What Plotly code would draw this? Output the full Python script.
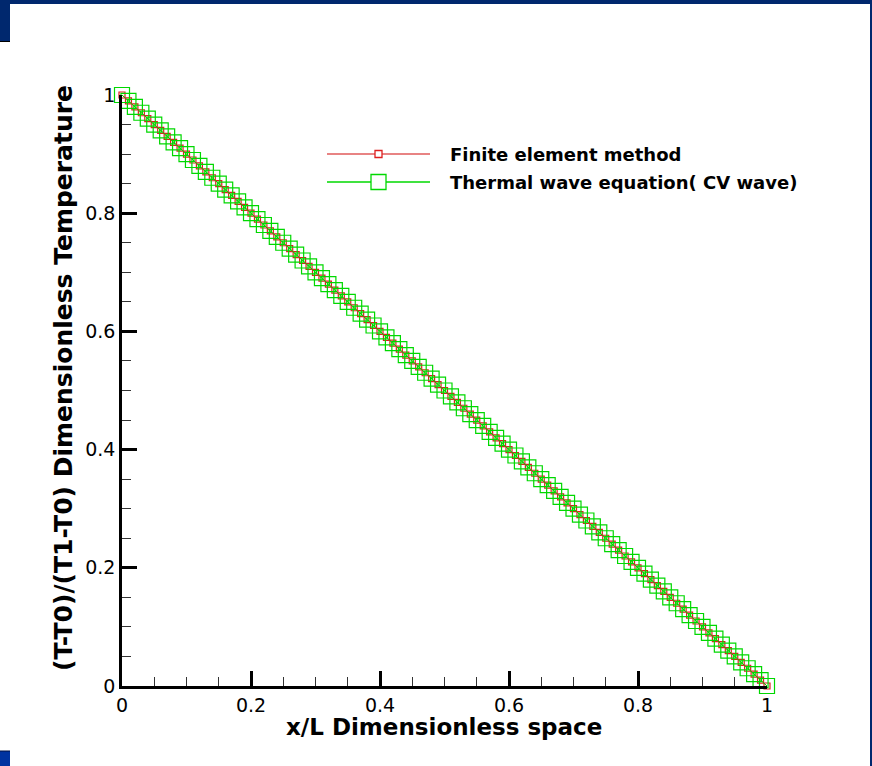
import plotly.graph_objects as go

# ---- data ----
x_fem = [0.00, 0.01, 0.02, 0.03, 0.04, 0.05, 0.06, 0.07, 0.08, 0.09,
         0.10, 0.11, 0.12, 0.13, 0.14, 0.15, 0.16, 0.17, 0.18, 0.19,
         0.20, 0.21, 0.22, 0.23, 0.24, 0.25, 0.26, 0.27, 0.28, 0.29,
         0.30, 0.31, 0.32, 0.33, 0.34, 0.35, 0.36, 0.37, 0.38, 0.39,
         0.40, 0.41, 0.42, 0.43, 0.44, 0.45, 0.46, 0.47, 0.48, 0.49,
         0.50, 0.51, 0.52, 0.53, 0.54, 0.55, 0.56, 0.57, 0.58, 0.59,
         0.60, 0.61, 0.62, 0.63, 0.64, 0.65, 0.66, 0.67, 0.68, 0.69,
         0.70, 0.71, 0.72, 0.73, 0.74, 0.75, 0.76, 0.77, 0.78, 0.79,
         0.80, 0.81, 0.82, 0.83, 0.84, 0.85, 0.86, 0.87, 0.88, 0.89,
         0.90, 0.91, 0.92, 0.93, 0.94, 0.95, 0.96, 0.97, 0.98, 0.99,
         1.00]
t_fem = [1.00, 0.99, 0.98, 0.97, 0.96, 0.95, 0.94, 0.93, 0.92, 0.91,
         0.90, 0.89, 0.88, 0.87, 0.86, 0.85, 0.84, 0.83, 0.82, 0.81,
         0.80, 0.79, 0.78, 0.77, 0.76, 0.75, 0.74, 0.73, 0.72, 0.71,
         0.70, 0.69, 0.68, 0.67, 0.66, 0.65, 0.64, 0.63, 0.62, 0.61,
         0.60, 0.59, 0.58, 0.57, 0.56, 0.55, 0.54, 0.53, 0.52, 0.51,
         0.50, 0.49, 0.48, 0.47, 0.46, 0.45, 0.44, 0.43, 0.42, 0.41,
         0.40, 0.39, 0.38, 0.37, 0.36, 0.35, 0.34, 0.33, 0.32, 0.31,
         0.30, 0.29, 0.28, 0.27, 0.26, 0.25, 0.24, 0.23, 0.22, 0.21,
         0.20, 0.19, 0.18, 0.17, 0.16, 0.15, 0.14, 0.13, 0.12, 0.11,
         0.10, 0.09, 0.08, 0.07, 0.06, 0.05, 0.04, 0.03, 0.02, 0.01,
         0.00]
x_cv = list(x_fem)
t_cv = [1.00, 0.99, 0.98, 0.97, 0.96, 0.95, 0.94, 0.93, 0.92, 0.91,
        0.90, 0.89, 0.88, 0.87, 0.86, 0.85, 0.84, 0.83, 0.82, 0.81,
        0.80, 0.79, 0.78, 0.77, 0.76, 0.75, 0.74, 0.73, 0.72, 0.71,
        0.70, 0.69, 0.68, 0.67, 0.66, 0.65, 0.64, 0.63, 0.62, 0.61,
        0.60, 0.59, 0.58, 0.57, 0.56, 0.55, 0.54, 0.53, 0.52, 0.51,
        0.50, 0.49, 0.48, 0.47, 0.46, 0.45, 0.44, 0.43, 0.42, 0.41,
        0.40, 0.39, 0.38, 0.37, 0.36, 0.35, 0.34, 0.33, 0.32, 0.31,
        0.30, 0.29, 0.28, 0.27, 0.26, 0.25, 0.24, 0.23, 0.22, 0.21,
        0.20, 0.19, 0.18, 0.17, 0.16, 0.15, 0.14, 0.13, 0.12, 0.11,
        0.10, 0.09, 0.08, 0.07, 0.06, 0.05, 0.04, 0.03, 0.02, 0.01,
        0.00]

series_names = ["Finite element method", "Thermal wave equation( CV wave)"]
x_title = "x/L Dimensionless space"
y_title = "(T-T0)/(T1-T0) Dimensionless Temperature"

RED_LINE = "#e05a5a"
RED_MK = "#dd1f1f"
GREEN = "#00d800"
NAVY = "#00286e"
BLUE2 = "#0033a0"
FONT = "DejaVu Sans"

W, H = 872, 766
L, R, T, B = 122, 105, 95, 80
PW, PH = W - L - R, H - T - B


def px(xp):
    return (xp - L) / PW


def py(yp):
    return (H - B - yp) / PH


fig = go.Figure()
fig.add_trace(go.Scatter(
    x=x_fem, y=t_fem, mode="lines+markers", name=series_names[0],
    line=dict(color=RED_LINE, width=1),
    marker=dict(symbol="square-open", size=6, color=RED_MK, line=dict(width=1.2, color=RED_MK)),
    cliponaxis=False, showlegend=False))
fig.add_trace(go.Scatter(
    x=x_cv, y=t_cv, mode="lines+markers", name=series_names[1],
    line=dict(color=GREEN, width=1),
    marker=dict(symbol="square-open", size=15, color=GREEN, line=dict(width=1.2, color=GREEN)),
    cliponaxis=False, showlegend=False))

shapes = []
# frame decorations
shapes.append(dict(type="rect", xref="paper", yref="paper", x0=px(0), x1=px(W), y0=py(0), y1=py(4),
                   fillcolor=NAVY, line=dict(width=0), layer="above"))
shapes.append(dict(type="rect", xref="paper", yref="paper", x0=px(0), x1=px(10), y0=py(0), y1=py(41),
                   fillcolor=NAVY, line=dict(width=0), layer="above"))
shapes.append(dict(type="line", xref="paper", yref="paper", x0=px(0), x1=px(10), y0=py(41.5), y1=py(41.5),
                   line=dict(width=1, color="black"), layer="above"))
shapes.append(dict(type="rect", xref="paper", yref="paper", x0=px(870), x1=px(W), y0=py(0), y1=py(H),
                   fillcolor=NAVY, line=dict(width=0), layer="above"))
shapes.append(dict(type="rect", xref="paper", yref="paper", x0=px(0), x1=px(10), y0=py(751), y1=py(H),
                   fillcolor=BLUE2, line=dict(width=0), layer="above"))
shapes.append(dict(type="line", xref="paper", yref="paper", x0=px(0), x1=px(10), y0=py(751), y1=py(751),
                   line=dict(width=1, color="#001040"), layer="above"))

# manual legend
leg_rows = [(154, RED_LINE, RED_MK, 7), (182, GREEN, GREEN, 15)]
for (yy, lc, mc, ms), name in zip(leg_rows, series_names):
    shapes.append(dict(type="line", xref="paper", yref="paper", x0=px(327), x1=px(430), y0=py(yy), y1=py(yy),
                       line=dict(width=1.3, color=lc)))
    shapes.append(dict(type="rect", xref="paper", yref="paper", xsizemode="pixel", ysizemode="pixel",
                       xanchor=px(378.5), yanchor=py(yy), x0=-ms / 2, x1=ms / 2, y0=-ms / 2, y1=ms / 2,
                       fillcolor="white", line=dict(width=1.3, color=mc)))

annotations = []
for yy, name in zip([154, 182], series_names):
    annotations.append(dict(xref="paper", yref="paper", x=px(448), y=py(yy), xanchor="left", yanchor="middle",
                            text="<b>%s</b>" % name, showarrow=False,
                            font=dict(family=FONT, size=18, color="black")))
annotations.append(dict(xref="paper", yref="paper", x=px(443.5), y=py(727), xanchor="center", yanchor="middle",
                        text="<b>%s</b>" % x_title, showarrow=False,
                        font=dict(family=FONT, size=23, color="black")))
annotations.append(dict(xref="paper", yref="paper", x=px(63), y=py(378), xanchor="center", yanchor="middle",
                        text="<b>%s</b>" % y_title, showarrow=False, textangle=-90,
                        font=dict(family=FONT, size=25, color="black")))

axis_common = dict(range=[0, 1], tick0=0, dtick=0.2, ticks="inside", ticklen=15, tickwidth=2.5,
                   tickcolor="black", showline=True, linewidth=2.5, linecolor="black",
                   showgrid=False, zeroline=False, mirror=False,
                   tickfont=dict(family=FONT, size=19, color="black"),
                   minor=dict(ticks="inside", ticklen=9, tickwidth=1, dtick=0.05, tickcolor="#333333",
                              showgrid=False))

fig.update_layout(
    width=W, height=H,
    margin=dict(l=L, r=R, t=T, b=B, pad=0),
    paper_bgcolor="white", plot_bgcolor="white",
    xaxis=dict(**axis_common),
    yaxis=dict(**axis_common),
    shapes=shapes, annotations=annotations,
    showlegend=False,
)

fig.write_html("out.html", config={"displayModeBar": False},
               post_script="document.body.style.margin='0';document.body.style.overflow='hidden';")
